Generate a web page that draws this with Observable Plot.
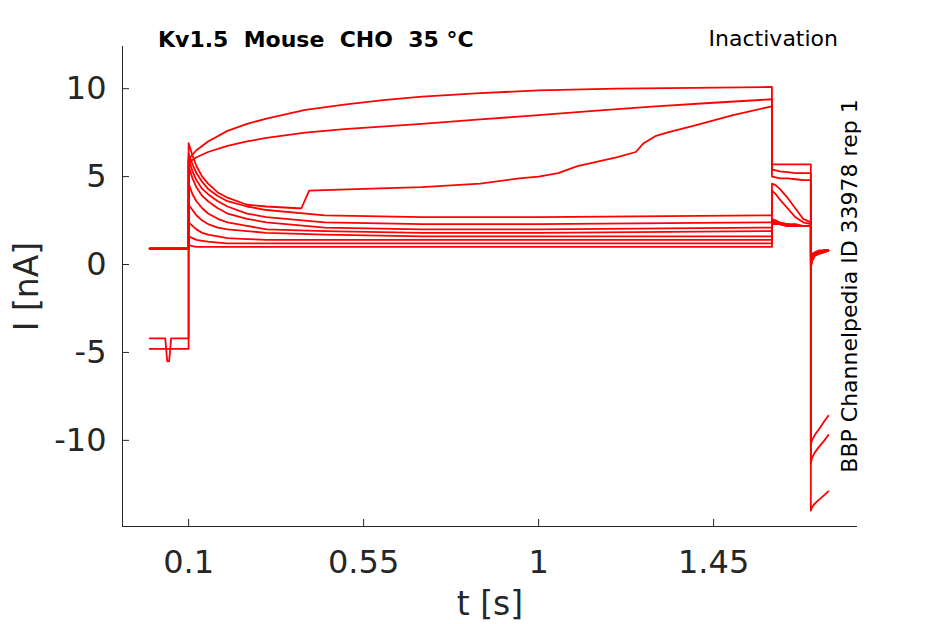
<!DOCTYPE html>
<html><head><meta charset="utf-8">
<script src="https://cdn.jsdelivr.net/npm/d3@7"></script>
<script src="https://cdn.jsdelivr.net/npm/@observablehq/plot@0.6"></script>
<style>body{margin:0;background:#fff}svg{font-family:"DejaVu Sans"}</style>
</head><body><div id="c"></div>
<script>
const preT = [0, 0.04, 0.045, 0.05, 0.055, 0.06, 0.1];
const pulseT = [0.1, 0.11, 0.12, 0.135, 0.15, 0.175, 0.2, 0.25, 0.3, 0.45, 0.7, 1.0, 1.6];
const postT = [1.6, 1.61, 1.62, 1.64, 1.66, 1.68, 1.7];
const tailT = [1.7, 1.703, 1.71, 1.72, 1.735, 1.745];
const traces = [
 {pre:[-4.8,-4.8,-4.8,-4.8,-4.8,-4.8,-4.8], pulseT:[0.1,0.12,0.15,0.2,0.25,0.3,0.4,0.5,0.6,0.7,0.85,1.0,1.2,1.4,1.6], pulse:[6.0,6.5,7.0,7.6,8.0,8.3,8.8,9.1,9.35,9.55,9.75,9.9,10.0,10.05,10.1], post:[5.7,5.7,5.7,5.7,5.7,5.7,5.7], tail:[-14,-13.8,-13.6,-13.4,-13.1,-12.9]},
 {pre:[-4.2,-4.2,-5.5,-5.5,-4.2,-4.2,-4.2], pulseT:[0.1,0.12,0.15,0.2,0.25,0.3,0.4,0.5,0.7,0.85,1.0,1.15,1.3,1.45,1.6], pulse:[5.8,6.1,6.4,6.75,7.0,7.2,7.5,7.7,8.0,8.25,8.5,8.75,9.0,9.2,9.4], post:[5.4,5.35,5.3,5.25,5.2,5.2,5.2], tail:[-11.3,-11.0,-10.7,-10.4,-10.0,-9.7]},
 {pre:[0.9,0.9,0.9,0.9,0.9,0.9,0.9], pulseT:[0.1,0.11,0.12,0.135,0.15,0.175,0.2,0.25,0.3,0.38,0.39,0.41,0.55,0.7,0.85,0.95,1.0,1.05,1.1,1.2,1.25,1.27,1.3,1.33,1.4,1.5,1.6], pulse:[6.9,6.2,5.6,5.0,4.6,4.1,3.8,3.4,3.3,3.2,3.2,4.2,4.3,4.4,4.6,4.9,5.0,5.2,5.6,6.1,6.4,6.9,7.3,7.5,7.9,8.5,9.0], post:[5.0,4.95,4.9,4.9,4.85,4.8,4.8], tail:[-10.2,-10.0,-9.7,-9.4,-8.9,-8.6]},
 {pre:[0.9,0.9,0.9,0.9,0.9,0.9,0.9], pulse:[6.3,5.7,5.2,4.7,4.3,3.9,3.6,3.3,3.1,2.8,2.7,2.7,2.8], post:[4.6,4.5,4.3,3.8,3.2,2.6,2.4], tail:[-0.2,0.2,0.5,0.6,0.7,0.8]},
 {pre:[0.9,0.9,0.9,0.9,0.9,0.9,0.9], pulse:[6.0,5.3,4.8,4.3,4.0,3.6,3.3,2.9,2.7,2.4,2.3,2.3,2.4], post:[4.2,4.0,3.7,3.2,2.7,2.4,2.3], tail:[-0.1,0.2,0.5,0.6,0.7,0.8]},
 {pre:[0.9,0.9,0.9,0.9,0.9,0.9,0.9], pulse:[5.6,4.9,4.4,3.9,3.6,3.2,2.9,2.6,2.4,2.1,2.0,2.0,2.1], post:[2.6,2.5,2.4,2.3,2.3,2.2,2.2], tail:[0.0,0.3,0.5,0.7,0.7,0.8]},
 {pre:[0.9,0.9,0.9,0.9,0.9,0.9,0.9], pulse:[4.6,4.0,3.6,3.2,2.9,2.6,2.4,2.2,2.0,1.9,1.8,1.8,1.9], post:[2.5,2.4,2.3,2.3,2.2,2.2,2.2], tail:[0.1,0.4,0.6,0.7,0.8,0.8]},
 {pre:[0.9,0.9,0.9,0.9,0.9,0.9,0.9], pulse:[3.4,3.1,2.8,2.5,2.3,2.1,2.0,1.9,1.8,1.7,1.6,1.6,1.6], post:[2.4,2.3,2.3,2.2,2.2,2.2,2.2], tail:[0.2,0.4,0.6,0.7,0.8,0.8]},
 {pre:[0.9,0.9,0.9,0.9,0.9,0.9,0.9], pulse:[2.4,2.2,2.0,1.8,1.7,1.6,1.5,1.45,1.4,1.4,1.4,1.4,1.4], post:[2.4,2.3,2.3,2.2,2.2,2.2,2.2], tail:[0.3,0.5,0.6,0.7,0.8,0.8]},
 {pre:[0.9,0.9,0.9,0.9,0.9,0.9,0.9], pulse:[1.6,1.5,1.4,1.35,1.3,1.25,1.2,1.2,1.2,1.2,1.2,1.2,1.2], post:[2.4,2.3,2.3,2.2,2.2,2.2,2.2], tail:[0.4,0.5,0.6,0.7,0.8,0.8]},
 {pre:[0.9,0.9,0.9,0.9,0.9,0.9,0.9], pulse:[1.1,1.05,1.0,1.0,1.0,1.0,1.0,1.0,1.0,1.0,1.0,1.0,1.0], post:[2.3,2.3,2.3,2.2,2.2,2.2,2.2], tail:[0.5,0.6,0.7,0.8,0.8,0.8]}
];
const xTicks = [0.1, 0.55, 1, 1.45];
const yTicks = [-10, -5, 0, 5, 10];

const rows = [];
traces.forEach((tr, k) => {
  preT.forEach((t,i)=>rows.push({k,t,v:tr.pre[i]}));
  (tr.pulseT||pulseT).forEach((t,i)=>rows.push({k,t,v:tr.pulse[i]}));
  postT.forEach((t,i)=>rows.push({k,t,v:tr.post[i]}));
  tailT.forEach((t,i)=>rows.push({k,t,v:tr.tail[i]}));
});

const plot = Plot.plot({
  width: 945, height: 624,
  marginLeft: 122, marginRight: 88, marginTop: 46, marginBottom: 98,
  x: {domain: [-0.07, 1.82]},
  y: {domain: [-14.9, 12.4]},
  style: {fontSize: "32px", fontFamily: "DejaVu Sans", color: "#262626"},
  marks: [
    Plot.line(rows, {x:"t", y:"v", z:"k", stroke:"red", strokeWidth:1.8}),
    Plot.axisX({ticks: xTicks, tickFormat: d=>String(d), tickSize: -7, tickPadding: 31, label: "t [s]", labelAnchor:"center", labelArrow:"none", labelOffset: 88, fontSize: 32}),
    Plot.axisY({ticks: yTicks, tickFormat: d=>String(d), tickSize: -7, tickPadding: 23, label: "I [nA]", labelAnchor:"center", labelArrow:"none", labelOffset: 108, fontSize: 32}),
    Plot.ruleX([-0.07], {stroke:"#262626"}),
    Plot.ruleY([-14.9], {stroke:"#262626"})
  ]
});
const svg = d3.select(plot);
svg.selectAll("[aria-label='x-axis label'] text, [aria-label='y-axis label'] text").attr("font-size", 33);
svg.append("text").attr("x",158).attr("y",47).attr("text-anchor","start").attr("font-size",22).attr("font-weight","bold").attr("fill","#000").text("Kv1.5  Mouse  CHO  35 °C");
svg.append("text").attr("x",838).attr("y",46).attr("text-anchor","end").attr("font-size",22).attr("fill","#000").text("Inactivation");
svg.append("text").attr("transform","translate(857,286) rotate(-90)").attr("text-anchor","middle").attr("font-size",22).attr("fill","#000").text("BBP Channelpedia ID 33978 rep 1");
document.getElementById("c").appendChild(plot);
</script></body></html>
